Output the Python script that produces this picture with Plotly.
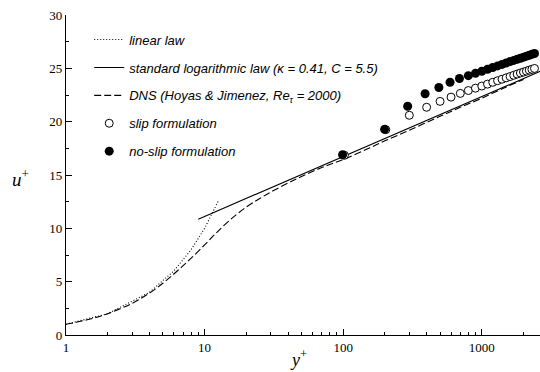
import math
import plotly.graph_objects as go

# ---- data ----
lin_y = [1, 2, 4, 6, 8, 10, 12.6]
lin_u = [1, 2, 4, 6, 8, 10, 12.6]

log_y = [9, 12, 20, 50, 100, 200, 500, 1000, 2000, 2700]
kappa, C = 0.41, 5.5

dns_y = [1, 1.5, 2, 3, 4, 5, 6, 7, 8, 10, 12, 15, 20, 25, 30, 40, 50, 70, 100, 150, 200, 300, 500, 700, 1000, 1500, 2000]
dns_u = [1.0, 1.5, 2.0, 2.97, 3.93, 4.85, 5.72, 6.5, 7.2, 8.45, 9.5, 10.7, 12.0, 12.8, 13.4, 14.25, 14.85, 15.7, 16.45,
         17.45, 18.2, 19.2, 20.5, 21.35, 22.2, 23.25, 23.95]

slip_y = [102, 203, 300, 400, 500, 600, 700, 800, 900, 1000, 1100, 1200, 1300, 1400, 1500, 1600, 1700, 1800,
          1900, 2000, 2100, 2200, 2300, 2400]
slip_u = [16.85, 19.25, 20.6, 21.35, 21.9, 22.3, 22.65, 22.92, 23.14, 23.34, 23.52, 23.69, 23.84, 23.98, 24.11,
          24.23, 24.35, 24.46, 24.56, 24.65, 24.74, 24.83, 24.91, 24.99]

noslip_y = [99, 199, 292, 390, 490, 590, 690, 800, 900, 1000, 1100, 1200, 1300, 1400, 1500, 1600, 1700, 1800,
            1900, 2000, 2100, 2200, 2300, 2400]
noslip_u = [16.9, 19.28, 21.45, 22.62, 23.2, 23.7, 24.05, 24.31, 24.53, 24.73, 24.91, 25.08, 25.23, 25.37, 25.5,
            25.63, 25.74, 25.85, 25.95, 26.05, 26.14, 26.23, 26.31, 26.39]

log_u = [math.log(v) / kappa + C for v in log_y]

fig = go.Figure()
fig.add_trace(go.Scatter(x=lin_y, y=lin_u, mode="lines", name="linear law", legendgroup="a",
                         line=dict(color="black", width=1.1, dash="1px,2px")))
fig.add_trace(go.Scatter(x=log_y, y=log_u, mode="lines", legendgroup="b",
                         name="standard logarithmic law (κ = 0.41, C = 5.5)",
                         line=dict(color="black", width=1.1)))
fig.add_trace(go.Scatter(x=dns_y, y=dns_u, mode="lines", legendgroup="c", line_shape="spline",
                         name="DNS (Hoyas & Jimenez, Re<sub>τ</sub> = 2000)",
                         line=dict(color="black", width=1.1, dash="7px,3px")))
fig.add_trace(go.Scatter(x=slip_y, y=slip_u, mode="markers", name="slip formulation", legendgroup="d",
                         cliponaxis=False,
                         marker=dict(symbol="circle", size=8, color="white", line=dict(color="black", width=1))))
fig.add_trace(go.Scatter(x=noslip_y, y=noslip_u, mode="markers", name="no-slip formulation", legendgroup="e",
                         cliponaxis=False,
                         marker=dict(symbol="circle", size=9, color="black", line=dict(color="black", width=0))))

tickfont = dict(family="Liberation Serif", size=13, color="black")
fig.update_layout(
    width=540, height=372,
    margin=dict(l=66, r=0, t=15, b=37),
    plot_bgcolor="white", paper_bgcolor="white",
    showlegend=True,
    legend=dict(x=0.049, y=0.97, xanchor="left", yanchor="top", bgcolor="rgba(0,0,0,0)",
                font=dict(family="Liberation Sans", size=13, color="black", style="italic"),
                traceorder="grouped", tracegroupgap=8, itemwidth=30),
    xaxis=dict(type="log", range=[0, 3.42], showgrid=False, zeroline=False,
               showline=True, linecolor="black", linewidth=1.3,
               ticks="inside", ticklen=6, tickcolor="black", tickwidth=1,
               tickvals=[1, 10, 100, 1000], ticktext=["1", "10", "100", "1000"],
               tickfont=tickfont,
               minor=dict(ticks="inside", ticklen=3, tickcolor="black",
                          tickvals=[2, 3, 4, 5, 6, 7, 8, 9, 20, 30, 40, 50, 60, 70, 80, 90,
                                    200, 300, 400, 500, 600, 700, 800, 900, 2000])),
    yaxis=dict(range=[0, 30], showgrid=False, zeroline=False,
               showline=True, linecolor="black", linewidth=1.3,
               ticks="inside", ticklen=6, tickcolor="black", tickwidth=1,
               dtick=5, tickfont=tickfont,
               minor=dict(ticks="inside", ticklen=3, tickcolor="black", dtick=2.5)),
    annotations=[
        dict(text="<i>u</i><sup>+</sup>", xref="paper", yref="paper", x=-0.097, y=0.49,
             xanchor="center", yanchor="middle",
             showarrow=False, font=dict(family="Liberation Serif", size=19, color="black")),
        dict(text="<i>y</i><sup>+</sup>", xref="paper", yref="paper", x=0.49, y=-0.072,
             xanchor="center", yanchor="middle",
             showarrow=False, font=dict(family="Liberation Serif", size=18, color="black")),
    ],
)

fig.write_html("out.html")
